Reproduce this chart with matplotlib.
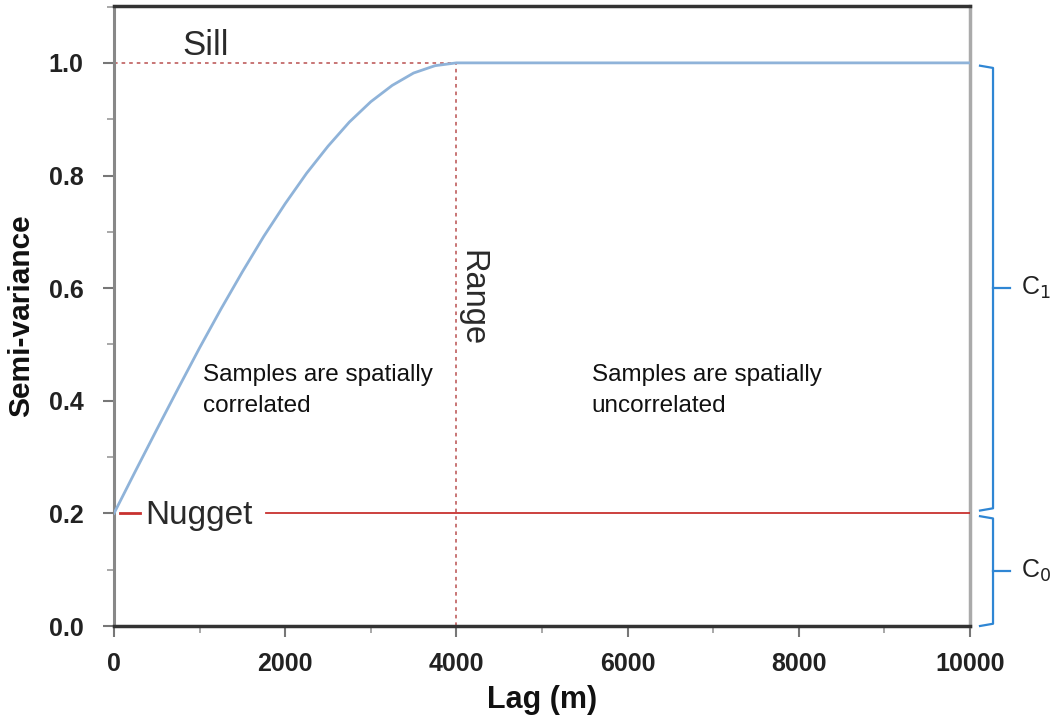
import matplotlib
matplotlib.use("Agg")
import matplotlib.pyplot as plt
from matplotlib.ticker import MultipleLocator

plt.rcParams['font.family'] = ['Liberation Sans', 'DejaVu Sans']

# Data
lag = [0, 250, 500, 750, 1000, 1250, 1500, 1750, 2000, 2250, 2500, 2750,
       3000, 3250, 3500, 3750, 4000, 10000]
semivar = [0.20, 0.275, 0.349, 0.422, 0.494, 0.563, 0.629, 0.692, 0.75,
           0.804, 0.852, 0.895, 0.931, 0.960, 0.982, 0.995, 1.0, 1.0]
nugget = 0.2
sill = 1.0
range_lag = 4000
x_ticks = [0, 2000, 4000, 6000, 8000, 10000]
y_ticks = [0.0, 0.2, 0.4, 0.6, 0.8, 1.0]

fig = plt.figure(figsize=(10.54, 7.2), dpi=100)
ax = fig.add_axes([114/1054, 1-626/720, (970-114)/1054, (626-6)/720])
ax.set_xlim(0, 10000)
ax.set_ylim(0, 1.101)

# sill & range dotted guides
dot_col = '#c46a6a'
ax.plot([0, range_lag], [sill, sill], color=dot_col, lw=1.3, ls=(0, (2, 2.2)), zorder=2)
ax.plot([range_lag, range_lag], [0, sill], color=dot_col, lw=1.3, ls=(0, (2, 2.2)), zorder=2)

# variogram curve
ax.plot(lag, semivar, color='#8fb3d9', lw=2.0, zorder=3)

# nugget line
red = '#c8312f'
ax.plot([70, 300], [nugget, nugget], color=red, lw=2.0, zorder=3)
ax.plot([1770, 10000], [nugget, nugget], color=red, lw=1.3, zorder=3)

txt = '#2a2a2a'
ax.text(1070, 1.030, 'Sill', fontsize=25, color=txt, ha='center', va='center')
ax.text(360, 0.197, 'Nugget', fontsize=24, color=txt, ha='left', va='center')
ax.text(4180, 0.582, 'Range', fontsize=23.5, color=txt, ha='center', va='center', rotation=-90)
ax.text(1040, 0.418, 'Samples are spatially\ncorrelated', fontsize=17.5, color='#111111',
        ha='left', va='center', linespacing=1.55)
ax.text(5580, 0.418, 'Samples are spatially\nuncorrelated', fontsize=17.5, color='#111111',
        ha='left', va='center', linespacing=1.55)

# braces (C1, C0)
bcol = '#2f86d4'
def brace(y0, y1, label):
    xl, xv, xt = 10117, 10269, 10467
    ym = (y0 + y1) / 2
    ax.plot([xl, xv, xv, xl], [y1, y1 - 0.004, y0 + 0.004, y0], color=bcol, lw=1.6,
            clip_on=False, solid_joinstyle='round')
    ax.plot([xv, xt], [ym, ym], color=bcol, lw=1.6, clip_on=False)
    ax.text(10590, ym, label, fontsize=18, color='#222222', ha='left', va='center')

brace(0.205, 0.995, r'C$_1$')
brace(0.0, 0.195, r'C$_0$')

# spines
ax.spines['left'].set_color('#888888'); ax.spines['left'].set_linewidth(2.2)
ax.spines['right'].set_color('#aaaaaa'); ax.spines['right'].set_linewidth(2.5)
ax.spines['top'].set_color('#333333'); ax.spines['top'].set_linewidth(2.5)
ax.spines['bottom'].set_color('#333333'); ax.spines['bottom'].set_linewidth(2.5)

ax.set_xticks(x_ticks)
ax.set_yticks(y_ticks)
ax.set_xticklabels([str(v) for v in x_ticks])
ax.set_yticklabels([f'{v:.1f}' for v in y_ticks])
ax.xaxis.set_minor_locator(MultipleLocator(1000))
ax.yaxis.set_minor_locator(MultipleLocator(0.1))
ax.tick_params(axis='both', which='major', direction='out', length=8, width=1.5,
               color='#777777', labelsize=18, labelcolor='#222222')
ax.tick_params(axis='both', which='minor', direction='out', length=5, width=1.2,
               color='#999999')
ax.tick_params(axis='x', pad=11)
ax.tick_params(axis='y', pad=14)
for lbl in ax.get_xticklabels() + ax.get_yticklabels():
    lbl.set_fontweight('bold')

ax.set_xlabel('Lag (m)', fontsize=22, fontweight='bold', color='#111111', labelpad=6)
ax.set_ylabel('Semi-variance', fontsize=21.5, fontweight='bold', color='#111111', labelpad=10)

fig.savefig('out.png', dpi=100)
